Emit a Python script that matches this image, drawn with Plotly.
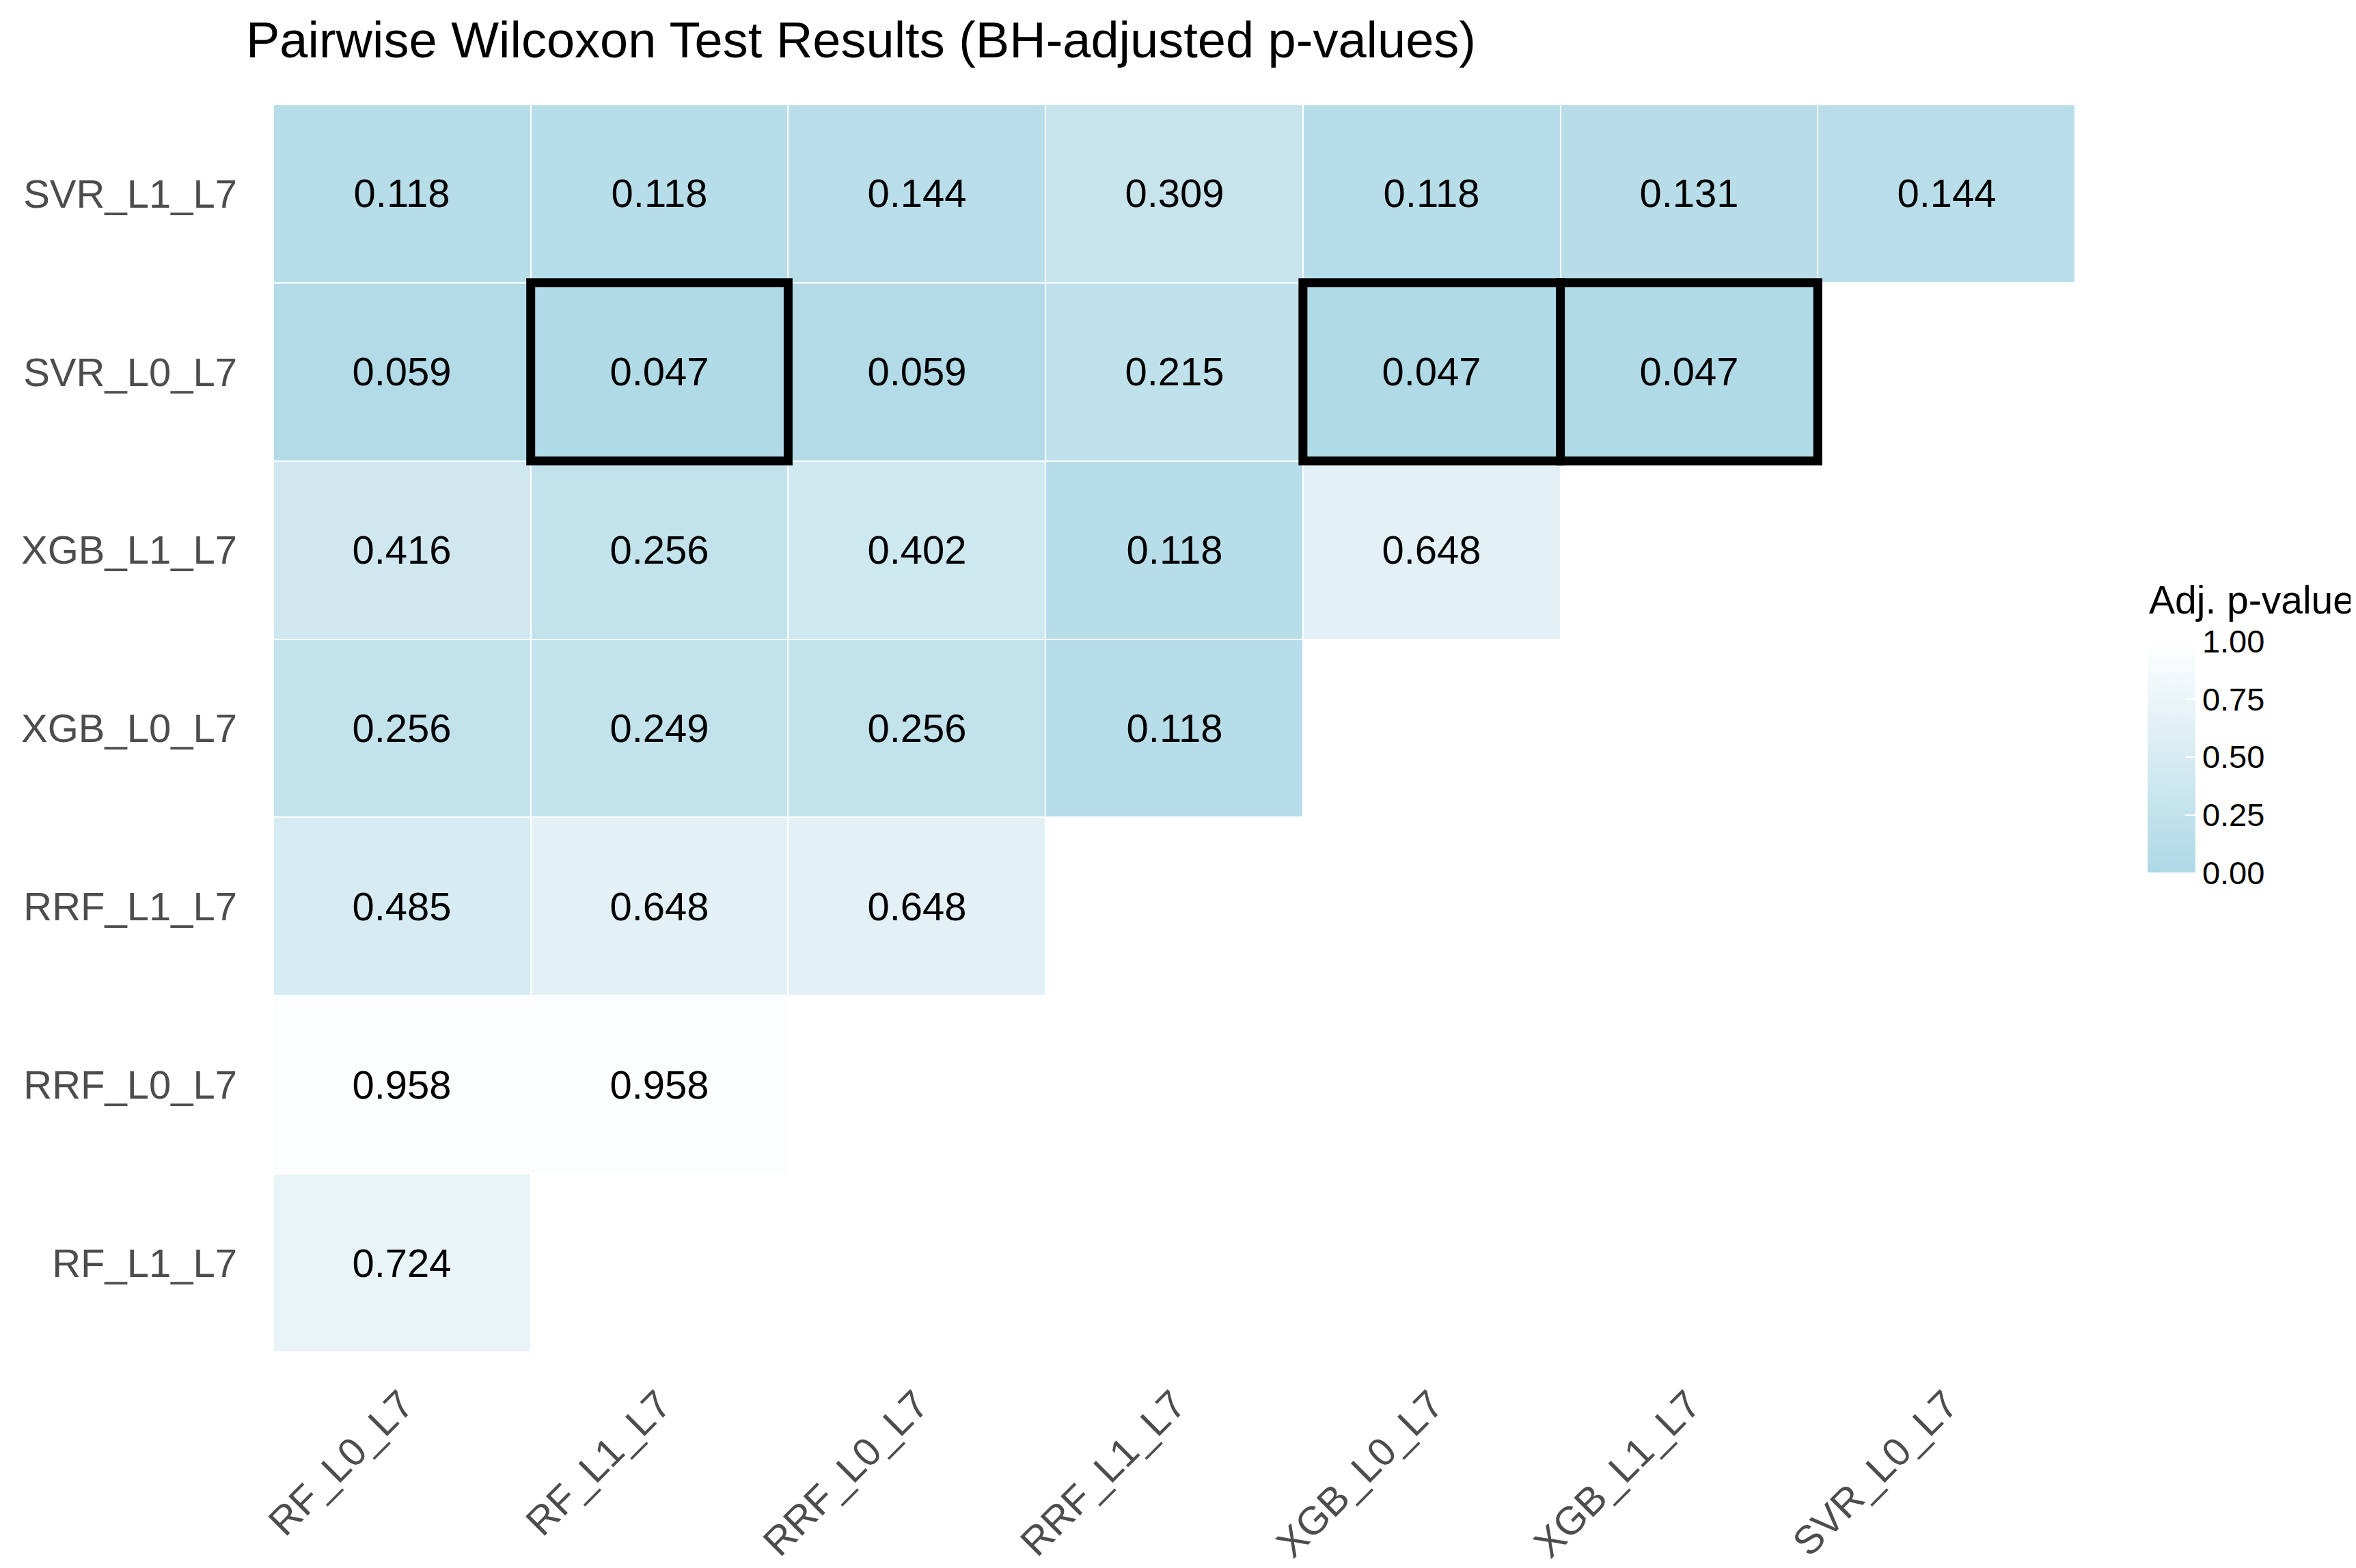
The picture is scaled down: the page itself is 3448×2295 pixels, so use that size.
import plotly.graph_objects as go
import numpy as np

# ---- data ----
col_labels = ["RF_L0_L7", "RF_L1_L7", "RRF_L0_L7", "RRF_L1_L7", "XGB_L0_L7", "XGB_L1_L7", "SVR_L0_L7"]
row_labels = ["SVR_L1_L7", "SVR_L0_L7", "XGB_L1_L7", "XGB_L0_L7", "RRF_L1_L7", "RRF_L0_L7", "RF_L1_L7"]  # top -> bottom

p_svr_l1 = [0.118, 0.118, 0.144, 0.309, 0.118, 0.131, 0.144]
p_svr_l0 = [0.059, 0.047, 0.059, 0.215, 0.047, 0.047, None]
p_xgb_l1 = [0.416, 0.256, 0.402, 0.118, 0.648, None, None]
p_xgb_l0 = [0.256, 0.249, 0.256, 0.118, None, None, None]
p_rrf_l1 = [0.485, 0.648, 0.648, None, None, None, None]
p_rrf_l0 = [0.958, 0.958, None, None, None, None, None]
p_rf_l1 = [0.724, None, None, None, None, None, None]

colorbar_ticks = [0.00, 0.25, 0.50, 0.75, 1.00]
sig_level = 0.05

z_rows = [p_svr_l1, p_svr_l0, p_xgb_l1, p_xgb_l0, p_rrf_l1, p_rrf_l0, p_rf_l1]

# ---- colour scale: lightblue -> white, interpolated in Lab like ggplot ----
def srgb_to_lin(c):
    c = c / 255.0
    return np.where(c <= 0.04045, c / 12.92, ((c + 0.055) / 1.055) ** 2.4)

def lin_to_srgb(c):
    c = np.clip(c, 0, 1)
    return np.where(c <= 0.0031308, 12.92 * c, 1.055 * c ** (1 / 2.4) - 0.055) * 255

M = np.array([[0.4124, 0.3576, 0.1805], [0.2126, 0.7152, 0.0722], [0.0193, 0.1192, 0.9505]])
Minv = np.linalg.inv(M)
WP = np.array([0.95047, 1.0, 1.08883])

def f(t):
    return np.where(t > (6 / 29) ** 3, np.cbrt(t), t / (3 * (6 / 29) ** 2) + 4 / 29)

def finv(t):
    return np.where(t > 6 / 29, t ** 3, 3 * (6 / 29) ** 2 * (t - 4 / 29))

def rgb_to_lab(rgb):
    xyz = M @ srgb_to_lin(np.array(rgb, float)) / WP
    fx, fy, fz = f(xyz)
    return np.array([116 * fy - 16, 500 * (fx - fy), 200 * (fy - fz)])

def lab_to_rgb(lab):
    L, a, b = lab
    fy = (L + 16) / 116
    xyz = np.array([finv(fy + a / 500), finv(fy), finv(fy - b / 200)]) * WP
    return lin_to_srgb(Minv @ xyz)

lab_lo = rgb_to_lab([173, 216, 230])
lab_hi = rgb_to_lab([255, 255, 255])
cscale = []
for t in np.linspace(0, 1, 11):
    r, g, b = lab_to_rgb(lab_lo + (lab_hi - lab_lo) * t)
    cscale.append([float(t), f"rgb({int(round(r))},{int(round(g))},{int(round(b))})"])

FONT = "Liberation Sans, Arial, Helvetica, sans-serif"

# ---- layout geometry (pixels) ----
W, H = 3448, 2295
L, T, PW, PH = 392, 145, 2637, 1832
R, B = W - L - PW, H - T - PH
CB_LEFT, CB_BOTTOM, CB_LEN = 3135, 1273, 340

fig = go.Figure()
fig.add_trace(go.Heatmap(
    x=col_labels,
    y=row_labels,
    z=z_rows,
    zmin=0, zmax=1,
    colorscale=cscale,
    xgap=2, ygap=2,
    texttemplate="%{z:.3f}",
    textfont=dict(family=FONT, size=58, color="black"),
    hoverongaps=False,
    colorbar=dict(
        x=(CB_LEFT - L) / PW, xanchor="left",
        y=(T + PH - CB_BOTTOM) / PH, yanchor="bottom",
        len=CB_LEN / PH, lenmode="fraction",
        thickness=70, thicknessmode="pixels",
        outlinewidth=0,
        tickvals=colorbar_ticks,
        ticktext=[f"{v:.2f}" for v in colorbar_ticks],
        ticks="inside", ticklen=15, tickcolor="white", tickwidth=2,
        tickfont=dict(family=FONT, size=47, color="black"),
        ypad=0, xpad=0,
    ),
))

# colourbar title as annotation
fig.add_annotation(
    text="Adj. p-value", showarrow=False,
    xref="paper", yref="paper",
    x=(CB_LEFT - L) / PW, xanchor="left",
    y=(T + PH - 872) / PH, yanchor="middle",
    font=dict(family=FONT, size=57, color="black"),
)

# highlight significant cells
for ri, row in enumerate(z_rows):
    for ci, v in enumerate(row):
        if v is not None and v < sig_level:
            fig.add_shape(
                type="rect", xref="x", yref="y",
                x0=ci - 0.5, x1=ci + 0.5, y0=ri - 0.5, y1=ri + 0.5,
                line=dict(color="black", width=13), fillcolor="rgba(0,0,0,0)",
                layer="above",
            )

fig.update_layout(
    width=W, height=H,
    paper_bgcolor="white", plot_bgcolor="white",
    margin=dict(l=L, r=R, t=T, b=B),
    title=dict(
        text="Pairwise Wilcoxon Test Results (BH-adjusted p-values)",
        font=dict(family=FONT, size=74, color="black"),
        xref="container", yref="container",
        x=352 / W, xanchor="left",
        y=1 - 24 / H, yanchor="top",
    ),
    font=dict(family=FONT),
)
fig.update_xaxes(
    type="category", categoryorder="array", categoryarray=col_labels,
    range=[-0.5, len(col_labels) - 0.5],
    showgrid=False, zeroline=False, showline=False, ticks="",
    tickangle=-45, tickfont=dict(family=FONT, size=58, color="#4D4D4D"),
    ticklabelstandoff=30,
)
fig.update_yaxes(
    type="category", categoryorder="array", categoryarray=row_labels,
    autorange="reversed",
    showgrid=False, zeroline=False, showline=False, ticks="",
    tickfont=dict(family=FONT, size=58, color="#4D4D4D"),
    ticklabelstandoff=52,
)

fig.write_html("out.html")
